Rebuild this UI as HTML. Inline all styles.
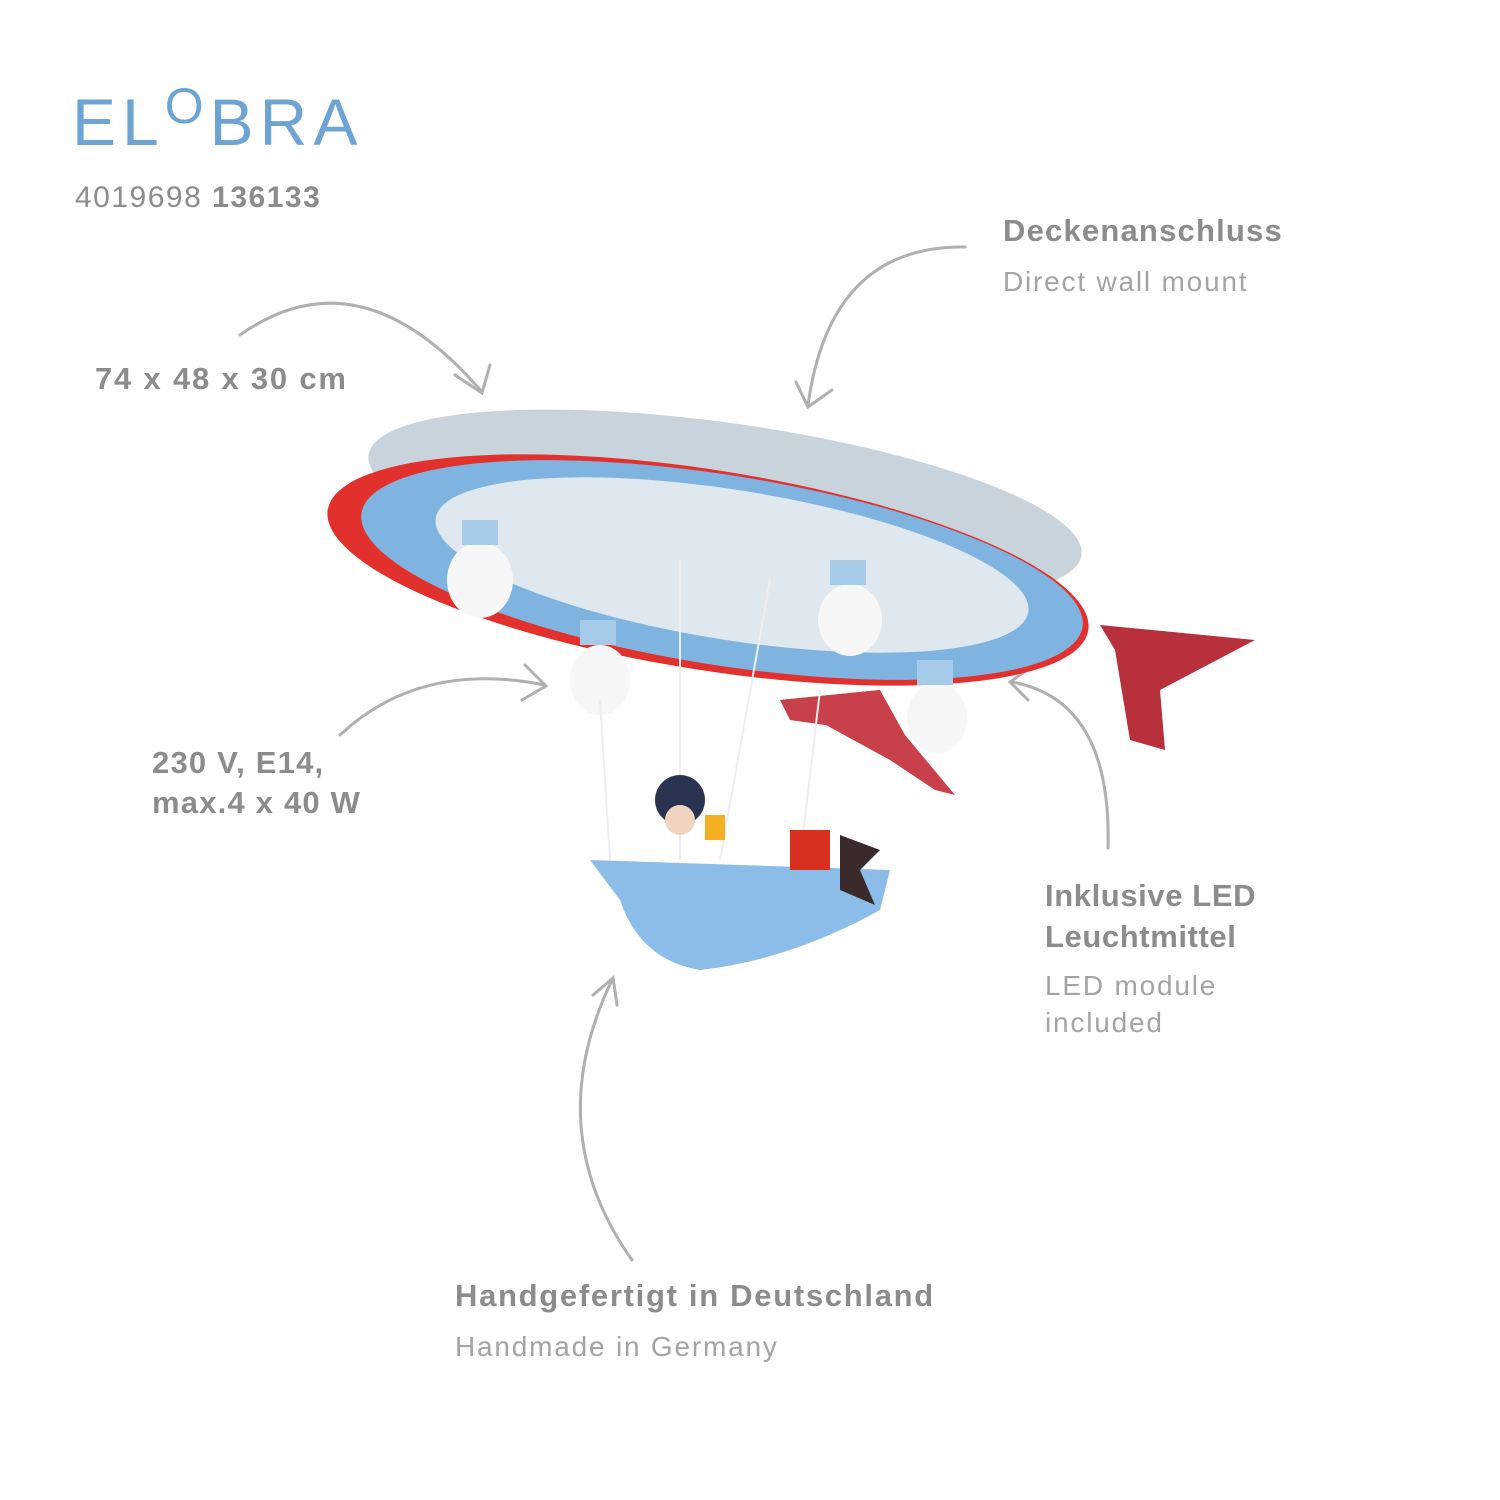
<!DOCTYPE html>
<html><head><meta charset="utf-8"><style>
body{margin:0;width:1500px;height:1500px;background:#fff;position:relative;overflow:hidden;font-family:"Liberation Sans",sans-serif}
.t{position:absolute;white-space:nowrap;color:#8c8c8c}
.b{font-weight:bold;font-size:31px;letter-spacing:1.2px}
.l{font-size:28px;color:#a4a4a4;letter-spacing:1.8px}
</style></head><body>
<div class="t" style="left:72px;top:84px;font-size:66px;color:#6ea4d4;letter-spacing:6px">EL<span style="position:relative;top:-22px;font-size:50px">O</span>BRA</div>
<div class="t" style="left:75px;top:181px;font-size:30px;color:#8c8c8c;letter-spacing:1.5px">4019698 <b>136133</b></div>
<div class="t b" style="left:1003px;top:213px">Deckenanschluss</div>
<div class="t l" style="left:1003px;top:266px">Direct wall mount</div>
<div class="t b" style="left:95px;top:361px;letter-spacing:1.8px">74 x 48 x 30 cm</div>
<div class="t b" style="left:152px;top:743px;line-height:40px">230 V, E14,<br>max.4 x 40 W</div>
<div class="t b" style="left:1045px;top:875px;line-height:41px;letter-spacing:0.6px">Inklusive LED<br>Leuchtmittel</div>
<div class="t l" style="left:1045px;top:967px;line-height:37px">LED module<br>included</div>
<div class="t b" style="left:455px;top:1278px;letter-spacing:1.7px">Handgefertigt in Deutschland</div>
<div class="t l" style="left:455px;top:1331px">Handmade in Germany</div>
<svg width="1500" height="1500" style="position:absolute;left:0;top:0">
<g fill="none" stroke="#b0b0b0" stroke-width="3" stroke-linecap="round">
<path d="M240 335 Q360 250 482 392"/><path d="M455 375 L482 393 L490 365"/>
<path d="M965 247 Q830 245 808 405"/><path d="M796 382 L808 407 L832 390"/>
<path d="M340 735 Q420 660 545 685"/><path d="M525 665 L546 686 L522 700"/>
<path d="M1108 848 Q1112 700 1012 682"/><path d="M1030 668 L1010 682 L1028 700"/>
<path d="M632 1260 Q540 1130 612 980"/><path d="M593 995 L613 978 L617 1005"/>
</g>
<!-- tail fins -->
<path d="M1100 625 L1255 640 L1160 690 L1165 750 L1130 740 L1115 650Z" fill="#b8303c"/>
<path d="M780 700 L880 690 L905 735 L955 795 L935 790 L890 760Z" fill="#c8404a"/>
<path d="M780 700 L880 690 L860 730 L790 720Z" fill="#c8404a"/>
<!-- mesh band -->
<ellipse cx="725" cy="505" rx="360" ry="82" transform="rotate(8 725 505)" fill="#c9d3dc"/>
<!-- body -->
<ellipse cx="708" cy="570" rx="385" ry="100" transform="rotate(9 708 570)" fill="#e2302c"/>
<ellipse cx="722" cy="570" rx="365" ry="95" transform="rotate(9 722 570)" fill="#7fb4e0"/>
<ellipse cx="732" cy="565" rx="300" ry="75" transform="rotate(9 732 565)" fill="#dfe7ef"/>
<!-- bulbs -->
<g fill="#f7f7f7"><ellipse cx="480" cy="580" rx="33" ry="38"/><ellipse cx="850" cy="620" rx="32" ry="36"/><ellipse cx="600" cy="680" rx="30" ry="35"/><ellipse cx="937" cy="718" rx="30" ry="35"/></g>
<g fill="#a6cbe8"><rect x="462" y="520" width="36" height="25"/><rect x="830" y="560" width="36" height="25"/><rect x="580" y="620" width="36" height="25"/><rect x="917" y="660" width="36" height="25"/></g>
<!-- ropes -->
<g stroke="#eee" stroke-width="2"><line x1="600" y1="700" x2="610" y2="860"/><line x1="680" y1="560" x2="680" y2="860"/><line x1="770" y1="580" x2="720" y2="860"/><line x1="820" y1="690" x2="800" y2="860"/></g>
<!-- gondola -->
<path d="M590 860 L890 870 L880 910 Q790 960 700 970 Q640 960 620 900Z" fill="#8bbde8"/>
<rect x="790" y="830" width="40" height="40" fill="#d7301f"/>
<path d="M840 835 L880 850 L860 870 L875 905 L840 890Z" fill="#3a2a2a"/>
<circle cx="680" cy="800" r="25" fill="#2a3450"/>
<circle cx="680" cy="820" r="15" fill="#f0d4c0"/>
<rect x="705" y="815" width="20" height="25" fill="#f4b020"/>
</svg>
</body></html>
